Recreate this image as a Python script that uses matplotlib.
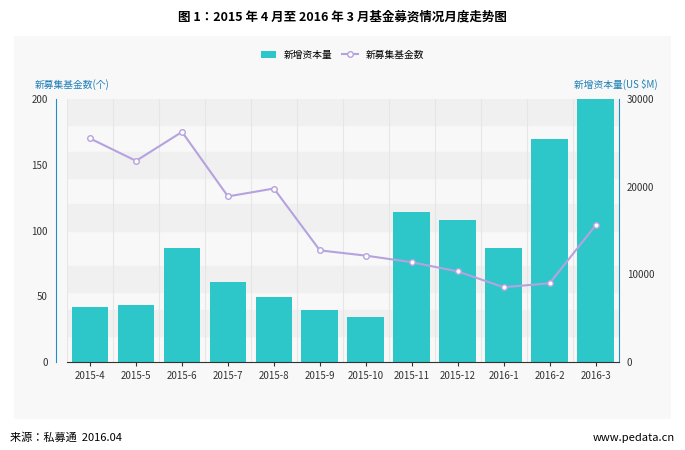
import matplotlib
matplotlib.use("Agg")
import matplotlib.pyplot as plt
plt.rcParams['font.family'] = ['Noto Sans CJK SC', 'Noto Sans CJK JP', 'DejaVu Sans']

months = ["2015-4","2015-5","2015-6","2015-7","2015-8","2015-9","2015-10","2015-11","2015-12","2016-1","2016-2","2016-3"]
capital = [6300, 6500, 13000, 9100, 7400, 5900, 5100, 17100, 16200, 13000, 25400, 30500]
fund_count = [170, 153, 175, 126, 132, 85, 81, 76, 69, 57, 60, 104]

fig = plt.figure(figsize=(6.85, 4.5), dpi=100)
fig.patch.set_facecolor("white")
fig.text(0.5, 0.955, "图 1：2015 年 4 月至 2016 年 3 月基金募资情况月度走势图", ha="center", fontsize=9, fontweight="bold")
fig.text(0.015, 0.02, "来源：私募通  2016.04", fontsize=8)
fig.text(0.985, 0.02, "www.pedata.cn", fontsize=8, ha="right")
bg = fig.add_axes([0.02, 0.07, 0.96, 0.85]); bg.set_facecolor("#f8f8f8"); bg.set_xticks([]); bg.set_yticks([])
for s in bg.spines.values(): s.set_visible(False)

x = list(range(len(months)))
ax1 = fig.add_axes([0.098, 0.195, 0.805, 0.585])
ax2 = ax1.twinx()
ax1.set_zorder(3); ax1.patch.set_visible(False)
ax2.set_facecolor("white")

ax2.bar(x, capital, width=0.8, color="#2ec7c9", zorder=2, label="新增资本量")
ax2.set_ylim(0, 30000)
for lo, hi in [(27000, 30500), (21000, 24000), (15000, 18000), (8000, 11000), (3000, 6000)]:
    ax2.axhspan(lo, hi, color="#f0f0f0", zorder=0)
for i in range(len(months)+1):
    ax2.axvline(i-0.5, color="#e6e6e6", lw=0.8, zorder=0)
ax2.set_yticks([0, 10000, 20000, 30000])
ax2.tick_params(axis="y", labelsize=7, colors="#333333", length=0, pad=6)
for s in ["top", "left", "bottom"]: ax2.spines[s].set_visible(False)
ax2.spines["right"].set_color("#1e90c8")

ax1.plot(x, fund_count, color="#b6a2de", lw=1.5, marker="o", markersize=4, markerfacecolor="white",
         markeredgecolor="#b6a2de", label="新募集基金数")
ax1.set_ylim(0, 200)
ax1.set_xlim(-0.5, 11.5)
ax1.set_yticks([0, 50, 100, 150, 200])
ax1.tick_params(axis="y", labelsize=7, colors="#333333", length=0, pad=6)
ax1.set_xticks(x); ax1.set_xticklabels(months, fontsize=7)
ax1.tick_params(axis="x", length=3, colors="#333333")
for s in ["top", "right"]: ax1.spines[s].set_visible(False)
ax1.spines["left"].set_color("#1e90c8"); ax1.spines["left"].set_position(("outward", 8))
ax1.spines["bottom"].set_color("#333333")

fig.text(0.05, 0.805, "新募集基金数(个)", fontsize=7, color="#1e7fb8")
fig.text(0.96, 0.805, "新增资本量(US $M)", fontsize=7, color="#1e7fb8", ha="right")
h1, l1 = ax2.get_legend_handles_labels(); h2, l2 = ax1.get_legend_handles_labels()
fig.legend(h1+h2, l1+l2, loc="center", bbox_to_anchor=(0.5, 0.878), ncol=2, frameon=False, fontsize=7, handlelength=1.6, columnspacing=1)
fig.savefig("out.png", dpi=100)
